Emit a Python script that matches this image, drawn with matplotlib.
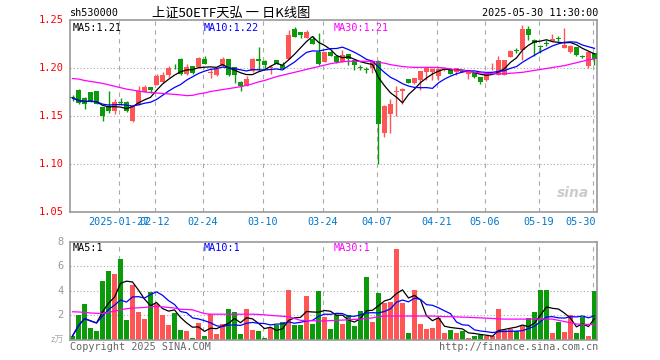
import numpy as np
import pandas as pd
import matplotlib
matplotlib.use("Agg")
import matplotlib.pyplot as plt

W, H = 660, 360
RED = "#ff5555"
GREEN = "#0a9a0a"
GRID = "#aaaaaa"
FRAME = "#999999"
MONO = "DejaVu Sans Mono"

# daily candles, 2025-01-15 .. 2025-05-30
opens = [1.1692, 1.1774, 1.169, 1.1745, 1.176, 1.159, 1.1607, 1.1555, 1.1642, 1.1646,
         1.1444, 1.1618, 1.175, 1.180, 1.1826, 1.1855, 1.1924, 1.2025, 1.2094, 1.1938,
         1.2017, 1.201, 1.2097, 1.195, 1.193, 1.2017, 1.209, 1.2007, 1.1854, 1.1816,
         1.1965, 1.2097, 1.2076, 1.2003, 1.208, 1.2035, 1.2097, 1.241, 1.2375, 1.2312,
         1.2306, 1.2163, 1.2062, 1.2163, 1.2128, 1.2062, 1.2142, 1.208, 1.2007, 1.1986,
         1.200, 1.207, 1.1323, 1.1524, 1.1753, 1.1764, 1.1889, 1.1844, 1.1878, 1.1962,
         1.1955, 1.1913, 1.1976, 1.199, 1.1958, 1.1983, 1.1941, 1.1948, 1.1906, 1.187,
         1.1997, 1.1931, 1.1931, 1.2111, 1.2183, 1.2191, 1.2406, 1.2295, 1.2233, 1.2253,
         1.2285, 1.2308, 1.2208, 1.2163, 1.2219, 1.2118, 1.2017, 1.2156]
highs = [1.1715, 1.178, 1.170, 1.1755, 1.1765, 1.1595, 1.1763, 1.168, 1.169, 1.1652,
         1.1605, 1.181, 1.1826, 1.1805, 1.194, 1.196, 1.202, 1.2045, 1.2105, 1.204,
         1.2025, 1.2115, 1.2128, 1.199, 1.200, 1.211, 1.2095, 1.201, 1.186, 1.1913,
         1.2105, 1.2219, 1.208, 1.2035, 1.2087, 1.206, 1.2392, 1.2425, 1.238, 1.240,
         1.2337, 1.2365, 1.2165, 1.2175, 1.213, 1.2191, 1.2145, 1.2085, 1.2028, 1.201,
         1.2087, 1.208, 1.1612, 1.1677, 1.1809, 1.1792, 1.189, 1.190, 1.1968, 1.200,
         1.1995, 1.1995, 1.2003, 1.1995, 1.2003, 1.1986, 1.196, 1.195, 1.1908, 1.195,
         1.2052, 1.2128, 1.2085, 1.219, 1.221, 1.2451, 1.2434, 1.2297, 1.2236, 1.2288,
         1.2358, 1.233, 1.2416, 1.2235, 1.222, 1.2132, 1.2177, 1.2158]
lows = [1.166, 1.162, 1.157, 1.1645, 1.1625, 1.145, 1.153, 1.1525, 1.1615, 1.154,
        1.1435, 1.161, 1.1745, 1.174, 1.182, 1.1845, 1.191, 1.199, 1.193, 1.193,
        1.194, 1.2005, 1.204, 1.190, 1.192, 1.201, 1.1915, 1.1844, 1.1757, 1.181,
        1.196, 1.1983, 1.200, 1.194, 1.204, 1.1985, 1.2095, 1.232, 1.2312, 1.231,
        1.225, 1.2028, 1.206, 1.2125, 1.205, 1.206, 1.2035, 1.1976, 1.1983, 1.1948,
        1.1948, 1.100, 1.1281, 1.1323, 1.1503, 1.163, 1.184, 1.1835, 1.1767, 1.1875,
        1.1878, 1.1878, 1.197, 1.1935, 1.193, 1.1955, 1.1885, 1.190, 1.1833, 1.1865,
        1.1975, 1.193, 1.1928, 1.211, 1.216, 1.2087, 1.2295, 1.2128, 1.2156, 1.2226,
        1.228, 1.228, 1.2205, 1.216, 1.213, 1.2104, 1.200, 1.2035]
closes = [1.1688, 1.1635, 1.163, 1.166, 1.163, 1.150, 1.1556, 1.1641, 1.1638, 1.1548,
          1.160, 1.1756, 1.180, 1.1767, 1.1913, 1.193, 1.2, 1.202, 1.1938, 1.201,
          1.1948, 1.210, 1.2045, 1.1955, 1.1986, 1.2097, 1.1924, 1.193, 1.1816, 1.189,
          1.2097, 1.2069, 1.2028, 1.2007, 1.2045, 1.1993, 1.2347, 1.2323, 1.234, 1.2375,
          1.2255, 1.2045, 1.2163, 1.2128, 1.2062, 1.2135, 1.2094, 1.2035, 1.200, 1.1983,
          1.207, 1.1417, 1.1608, 1.1628, 1.1757, 1.1778, 1.1844, 1.1896, 1.1965, 1.1995,
          1.199, 1.199, 1.200, 1.1938, 1.200, 1.1958, 1.1958, 1.1906, 1.185, 1.1948,
          1.200, 1.2087, 1.208, 1.218, 1.218, 1.2406, 1.234, 1.226, 1.2215, 1.225,
          1.2306, 1.2305, 1.2236, 1.223, 1.2135, 1.2115, 1.2163, 1.2094]
# volume, 万手
volumes = [0.33, 2.0, 2.9, 1.0, 0.7, 4.8, 5.6, 5.35, 6.6, 1.6,
           4.45, 2.3, 1.7, 3.9, 2.9, 2.0, 1.25, 2.2, 0.85, 0.7,
           0.2, 1.4, 0.35, 2.15, 0.5, 1.3, 2.5, 2.3, 0.45, 2.5,
           0.85, 0.7, 0.15, 1.0, 1.2, 1.5, 4.1, 1.2, 1.2, 3.6,
           1.3, 4.0, 1.9, 0.9, 2.0, 1.3, 2.0, 1.1, 2.35, 5.15,
           1.5, 3.85, 3.05, 3.1, 7.4, 3.0, 0.55, 4.1, 1.3, 0.9,
           1.0, 1.8, 0.6, 0.8, 0.6, 0.7, 0.2, 0.35, 0.4, 0.3,
           0.3, 2.5, 0.8, 0.9, 0.75, 1.15, 1.8, 2.3, 4.1, 4.1,
           0.6, 1.5, 0.65, 2.0, 0.6, 1.9, 0.3, 3.95]
# 30-day averages as drawn (they depend on days before the window)
ma30_price = [1.189, 1.1885, 1.187, 1.186, 1.185, 1.184, 1.1825, 1.181, 1.1795, 1.178,
              1.177, 1.176, 1.175, 1.1745, 1.174, 1.1735, 1.173, 1.1725, 1.172, 1.1712,
              1.1715, 1.173, 1.174, 1.1755, 1.1765, 1.1775, 1.1785, 1.1795, 1.1805, 1.182,
              1.1835, 1.1855, 1.187, 1.189, 1.191, 1.1925, 1.194, 1.1955, 1.197, 1.1985,
              1.200, 1.2015, 1.203, 1.2045, 1.2055, 1.2065, 1.207, 1.207, 1.207, 1.207,
              1.207, 1.206, 1.205, 1.2035, 1.2025, 1.2015, 1.201, 1.2007, 1.2007, 1.2007,
              1.2007, 1.2005, 1.200, 1.199, 1.198, 1.1975, 1.1965, 1.1955, 1.195, 1.1945,
              1.194, 1.194, 1.194, 1.1945, 1.195, 1.1955, 1.1965, 1.1975, 1.1985, 1.1995,
              1.2005, 1.2015, 1.2025, 1.204, 1.2055, 1.207, 1.2085, 1.2095]
ma30_volume = [2.3, 2.28, 2.25, 2.2, 2.17, 2.15, 2.25, 2.35, 2.45, 2.55,
               2.6, 2.62, 2.65, 2.7, 2.75, 2.7, 2.65, 2.6, 2.5, 2.48,
               2.45, 2.3, 2.15, 2.1, 2.1, 2.1, 2.1, 2.1, 2.1, 2.1,
               2.1, 2.08, 2.05, 2.0, 1.97, 1.93, 1.9, 1.75, 1.6, 1.58,
               1.57, 1.55, 1.55, 1.58, 1.6, 1.62, 1.65, 1.68, 1.7, 1.75,
               1.8, 1.9, 1.95, 1.95, 1.95, 1.95, 1.95, 1.95, 1.95, 1.95,
               1.95, 1.93, 1.9, 1.9, 1.88, 1.86, 1.85, 1.82, 1.8, 1.78,
               1.75, 1.72, 1.7, 1.7, 1.7, 1.7, 1.7, 1.7, 1.7, 1.7,
               1.7, 1.6, 1.5, 1.4, 1.3, 1.28, 1.27, 1.25]

tick_idx = [8, 14, 22, 32, 42, 51, 61, 69, 78, 87]
tick_labels = ["2025-01-27", "02-12", "02-24", "03-10", "03-24",
               "04-07", "04-21", "05-06", "05-19", "05-30"]
price_ticks = [1.25, 1.20, 1.15, 1.10, 1.05]
vol_ticks = [8, 6, 4, 2]


def px(x, y):
    return x / W, 1 - y / H


df = pd.DataFrame({"o": opens, "h": highs, "l": lows, "c": closes, "v": volumes})
n = len(df)
xs = np.arange(n)
up = df["c"] >= df["o"]
colors = np.where(up, RED, GREEN)

fig = plt.figure(figsize=(W / 100, H / 100), dpi=100)
fig.patch.set_facecolor("white")

ax = fig.add_axes([70 / W, 1 - 212 / H, 527 / W, 192 / H])
axv = fig.add_axes([70 / W, 1 - 340 / H, 527 / W, 98.3 / H])

for a in (ax, axv):
    a.set_xlim(-0.42, n - 0.58)
    a.set_xticks([])
    a.set_yticks([])
    for s in a.spines.values():
        s.set_color(FRAME)
        s.set_linewidth(1.2)
    for i in tick_idx:
        a.axvline(i - 0.3, color=GRID, lw=0.8, ls=(0, (4, 4)), zorder=0)

ax.set_ylim(1.05, 1.25)
for p in [1.10, 1.15, 1.20]:
    ax.axhline(p, color=GRID, lw=0.8, ls=(0, (1, 2)), zorder=0)

# candles
body_lo = np.minimum(df["o"], df["c"])
body_h = np.maximum(np.abs(df["c"] - df["o"]), 0.0006)
ax.vlines(xs, df["l"], df["h"], colors=colors, lw=1.0, zorder=2)
ax.bar(xs, body_h, bottom=body_lo, width=0.68, color=colors, lw=0, zorder=3)

ma5 = df["c"].rolling(5, min_periods=1).mean()
ma10 = df["c"].rolling(10, min_periods=1).mean()
ax.plot(xs, ma5, color="black", lw=0.9, zorder=4)
ax.plot(xs, ma10, color="#0000ff", lw=0.9, zorder=4)
ax.plot(xs, ma30_price, color="#ff00ff", lw=0.9, zorder=4)

# volume
axv.set_ylim(0, 8)
for v in [2, 4, 6]:
    axv.axhline(v, color=GRID, lw=0.8, ls=(0, (1, 2)), zorder=0)
axv.bar(xs, df["v"], width=0.68, color=colors, lw=0, zorder=2)
vma5 = df["v"].rolling(5, min_periods=1).mean()
vma10 = df["v"].rolling(10, min_periods=1).mean()
axv.plot(xs, vma5, color="black", lw=0.9, zorder=4)
axv.plot(xs, vma10, color="#0000ff", lw=0.9, zorder=4)
axv.plot(xs, ma30_volume, color="#ff00ff", lw=0.9, zorder=4)

# axis labels
for p in price_ticks:
    ax.text(-0.012, (p - 1.05) / 0.20, f"{p:.2f}", transform=ax.transAxes,
            ha="right", va="center", color="red", fontsize=7.5, family=MONO)
for v in vol_ticks:
    axv.text(-0.012, v / 8, f"{v}", transform=axv.transAxes,
             ha="right", va="center", color="#999999", fontsize=7.5, family=MONO)
axv.text(-0.012, 0.0, "z万", transform=axv.transAxes, ha="right", va="center",
         color="#aaaaaa", fontsize=6.5, family=["Noto Sans CJK SC", "DejaVu Sans"],
         style="italic")

for i, lab in zip(tick_idx, tick_labels):
    ha = "right" if i == n - 1 else "center"
    xx = i + 0.2 if i == n - 1 else i - 0.3
    ax.text(xx, 1.05, lab, transform=ax.get_xaxis_transform(), ha=ha, va="top",
            color="#0077cc", fontsize=7.3, family=MONO)
for t in ax.texts[-len(tick_idx):]:
    t.set_y(-0.025)

# header
fig.text(*px(70, 13), "sh530000", ha="left", va="center", fontsize=7.3,
         family=MONO, color="black")
fig.text(*px(231, 13), "上证50ETF天弘 一 日K线图", ha="center", va="center",
         fontsize=9.5, family=["Noto Sans CJK SC", "DejaVu Sans"], color="black")
fig.text(*px(598, 13), "2025-05-30 11:30:00", ha="right", va="center",
         fontsize=7.3, family=MONO, color="black")

# MA legends
for a, vals in ((ax, ("1.21", "1.22", "1.21")), (axv, ("1", "1", "1"))):
    for xpix, name, val, col in zip((73, 204, 334), ("MA5", "MA10", "MA30"),
                                    vals, ("black", "#0000ff", "#ff00ff")):
        a.text((xpix - 70) / 527, 0.985, f"{name}:{val}", transform=a.transAxes,
               ha="left", va="top", fontsize=7.3, family=MONO, color=col, zorder=6)

ax.text(0.985, 0.1, "sina", transform=ax.transAxes, ha="right", va="center",
        fontsize=10, fontweight="bold", style="italic", color="#cccccc")

fig.text(*px(70, 347), "Copyright 2025 SINA.COM", ha="left", va="center",
         fontsize=7.3, family=MONO, color="#666666")
fig.text(*px(598, 347), "http://finance.sina.com.cn", ha="right", va="center",
         fontsize=7.3, family=MONO, color="#666666")

fig.savefig("out.png", dpi=100, facecolor="white")
